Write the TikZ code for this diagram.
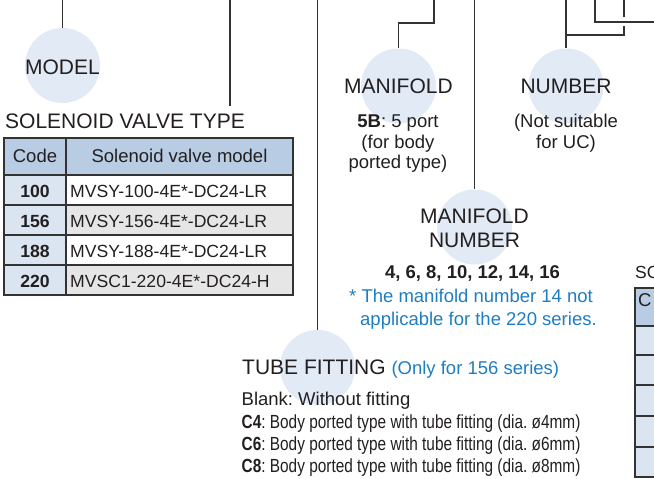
\documentclass[tikz,border=0pt]{standalone}
\usepackage{fontspec}
\setmainfont{Liberation Sans}
\newfontfamily\narrowfont[FakeStretch=0.81]{Liberation Sans}
\definecolor{txt}{HTML}{231F20}
\definecolor{lineC}{HTML}{333333}
\definecolor{bubbleC}{HTML}{E1EAF5}
\definecolor{hdrC}{HTML}{B8CCE4}
\definecolor{codeC}{HTML}{DBE5F1}
\definecolor{grayC}{HTML}{E6E6E6}
\definecolor{blueT}{HTML}{1F7EC2}
\frenchspacing
\begin{document}
\begin{tikzpicture}[x=1pt,y=-1pt,
  bubble/.style={circle,fill=bubbleC,minimum size=75pt,inner sep=0pt},
  conn/.style={draw=lineC,line width=1.3pt},
  gridline/.style={draw=lineC,line width=1.2pt},
  big/.style={font=\fontsize{21}{24}\selectfont,text=txt,inner sep=0pt},
  small/.style={font=\fontsize{18.5}{21}\selectfont,text=txt,inner sep=0pt},
  bluetext/.style={font=\fontsize{18.5}{21}\selectfont,text=blueT,inner sep=0pt},
  cell/.style={font=\fontsize{17.6}{20}\selectfont,text=txt,inner sep=0pt},
  narrow/.style={font=\narrowfont\fontsize{19}{22}\selectfont,text=txt,inner sep=0pt}
]
\useasboundingbox (0,0) rectangle (654,479);
\clip (0,0) rectangle (654,479);
\fill[white] (0,0) rectangle (654,479);

% bubbles
\node[bubble] (cModel) at (62.5,65.5) {};
\node[bubble] (cMan) at (398.5,86) {};
\node[bubble] (cNum) at (566,86) {};
\node[bubble] (cMN) at (474.5,227) {};
\node[bubble] (cTube) at (317.5,367.5) {};

% connectors
\coordinate (tModel) at (62.5,0);
\draw[conn] (tModel) -- (cModel.north);
\coordinate (tSV) at (230,0);
\coordinate (eSV) at (230,106);
\draw[conn] (tSV) -- (eSV);
\coordinate (tTube) at (317.5,0);
\draw[conn] (tTube) -- (cTube.north);
\coordinate (tMan) at (434,0);
\coordinate (kMan) at (434,23);
\draw[conn] (tMan) -- (kMan) -| (cMan.north);
\coordinate (tMN) at (474.5,0);
\draw[conn] (tMN) -- (cMN.north);
\coordinate (tNum) at (566,0);
\draw[conn] (tNum) -- (cNum.north);
\coordinate (jNum) at (566,35);
\coordinate (gapLow) at (624,25.5);
\coordinate (gapHigh) at (624,17);
\coordinate (tNumB) at (624,0);
\draw[conn] (jNum) -| (gapLow);
\draw[conn] (gapHigh) -- (tNumB);
\coordinate (tRight) at (595,0);
\coordinate (eRight) at (660,22);
\draw[conn] (tRight) |- (eRight);

% labels
\node[big,anchor=base] (lModel) at (62.5,74) {MODEL};
\node[big,anchor=base west] (lSV) at (5,128) {SOLENOID VALVE TYPE};
\node[big,anchor=base] (lMan) at (398.5,93) {MANIFOLD};
\node[small,anchor=base] (dMan1) at (398,127.5) {\textbf{5B}: 5 port};
\node[small,anchor=base] (dMan2) at (398,148) {(for body};
\node[small,anchor=base] (dMan3) at (398,168.5) {ported type)};
\node[big,anchor=base] (lNum) at (566,93) {NUMBER};
\node[small,anchor=base] (dNum1) at (566,127.5) {(Not suitable};
\node[small,anchor=base] (dNum2) at (566,148) {for UC)};
\node[big,anchor=base] (lMN1) at (474.5,223) {MANIFOLD};
\node[big,anchor=base] (lMN2) at (474.5,247) {NUMBER};
\node[small,anchor=base] (dMN) at (472.5,278) {\textbf{4, 6, 8, 10, 12, 14, 16}};
\node[bluetext,anchor=base west] (nMN1) at (349,302) {* The manifold number 14 not};
\node[bluetext,anchor=base west] (nMN2) at (360,325) {applicable for the 220 series.};
\node[big,anchor=base west] (lTube) at (242,374) {TUBE FITTING {\color{blueT}\fontsize{18.5}{21}\selectfont(Only for 156 series)}};
\node[small,anchor=base west] (dT0) at (241.5,405) {Blank: Without fitting};
\node[narrow,anchor=base west] (dT1) at (241.5,428) {\textbf{C4}: Body ported type with tube fitting (dia. ø4mm)};
\node[narrow,anchor=base west] (dT2) at (241.5,450) {\textbf{C6}: Body ported type with tube fitting (dia. ø6mm)};
\node[narrow,anchor=base west] (dT3) at (241.5,472) {\textbf{C8}: Body ported type with tube fitting (dia. ø8mm)};

% left table
\fill[hdrC] (4,138) rectangle (293,175);
\fill[codeC] (4,175) rectangle (66,295);
\fill[grayC] (66,205) rectangle (293,235);
\fill[grayC] (66,265) rectangle (293,295);
\foreach \yy in {175,205,235,265} \draw[gridline] (4,\yy) -- (293,\yy);
\draw[gridline] (66,138) -- (66,295);
\draw[gridline] (4,138) rectangle (293,295);
\node[small,anchor=base] (hCode) at (35,162) {Code};
\node[small,anchor=base] (hModel) at (179.5,162) {Solenoid valve model};
\node[cell,anchor=base] (c1) at (35,197) {\textbf{100}};
\node[cell,anchor=base west] (m1) at (70,197) {MVSY-100-4E*-DC24-LR};
\node[cell,anchor=base] (c2) at (35,227) {\textbf{156}};
\node[cell,anchor=base west] (m2) at (70,227) {MVSY-156-4E*-DC24-LR};
\node[cell,anchor=base] (c3) at (35,257) {\textbf{188}};
\node[cell,anchor=base west] (m3) at (70,257) {MVSY-188-4E*-DC24-LR};
\node[cell,anchor=base] (c4) at (35,287) {\textbf{220}};
\node[cell,anchor=base west] (m4) at (70,287) {MVSC1-220-4E*-DC24-H};

% right partial table
\node[font=\fontsize{17.5}{22}\selectfont,text=txt,inner sep=0pt,anchor=base west] (lSC) at (635,278) {SC};
\fill[hdrC] (635,288) rectangle (660,326);
\fill[codeC] (635,326) rectangle (660,477);
\foreach \yy in {326,355,385,416,447} \draw[gridline] (635,\yy) -- (660,\yy);
\draw[gridline] (660,288) -- (635,288) -- (635,477) -- (660,477);
\node[small,anchor=base west] (hC) at (638,306) {C};
\end{tikzpicture}
\end{document}
